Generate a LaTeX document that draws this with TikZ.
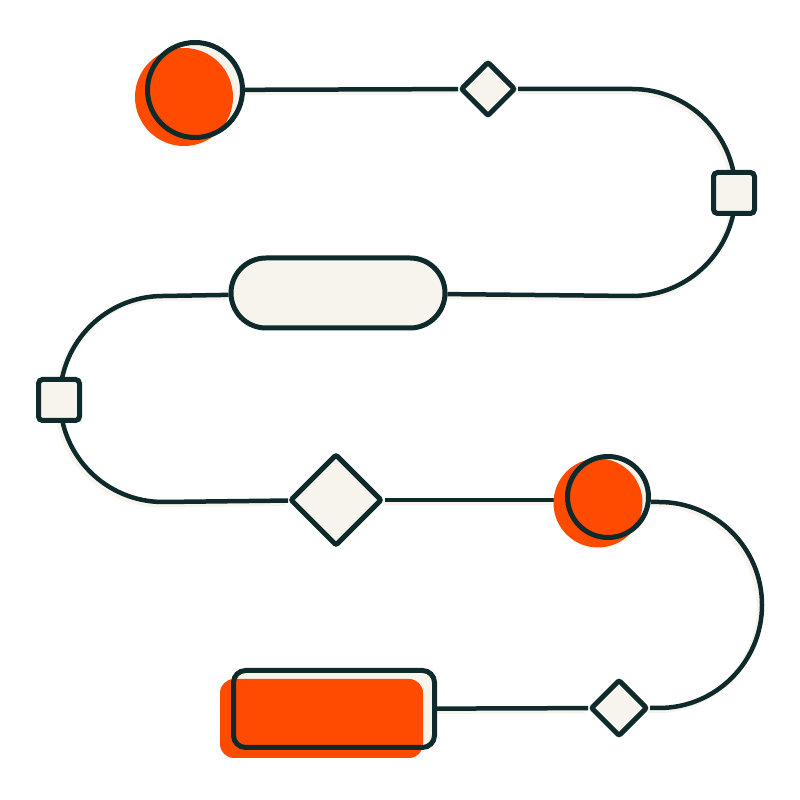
\documentclass[tikz,border=0pt]{standalone}
\usetikzlibrary{shapes.geometric,shapes.misc,backgrounds}
\definecolor{ink}{HTML}{0F2A2A}
\definecolor{accent}{HTML}{FF4B00}
\definecolor{paper}{HTML}{F7F4EE}
\begin{document}
\begin{tikzpicture}[x=1pt,y=1pt,
  ring/.style={circle,draw=ink,line width=5pt,inner sep=0pt,minimum size=#1},
  disc/.style={circle,fill=accent,inner sep=0pt,minimum size=#1},
  gem/.style={diamond,draw=ink,fill=paper,line width=5pt,inner sep=0pt,minimum size=#1,rounded corners=2pt},
  box/.style={rectangle,draw=ink,fill=paper,line width=5pt,inner sep=0pt,minimum size=41pt,rounded corners=4pt},
  wire/.style={draw=ink,line width=4.5pt},
  shade/.style={draw=paper,line width=5.5pt}]
\useasboundingbox (0,0) rectangle (800,800);
% start circle
\fill[paper] (195,710) circle (47.5);
\node[disc=98pt] (c1o) at (184,703) {};
\node[ring=95pt] (c1) at (195,710) {};
\node[gem=55pt] (d1) at (488,711) {};
\coordinate (a1s) at (632,711);
\node[box] (s1) at (734,607) {};
\node[rounded rectangle,draw=ink,fill=paper,line width=5pt,minimum width=214pt,minimum height=70pt,inner sep=0pt] (p) at (338,507) {};
\coordinate (a2s) at (163,504);
\node[box] (s2) at (59,400) {};
\node[gem=92pt] (d2) at (336,300) {};
% second circle
\fill[paper] (608,303) circle (40.5);
\node[disc=89pt] (c2o) at (598,297) {};
\node[ring=81pt] (c2) at (608,303) {};
\coordinate (a3s) at (659,298);
\node[gem=57pt] (d3) at (619,92) {};
% end rectangle
\fill[paper,rounded corners=12pt] (233,130) rectangle (435,52);
\node[rectangle,fill=accent,rounded corners=14pt,inner sep=0pt,minimum width=203pt,minimum height=79pt] (ro) at (321.5,81.5) {};
\node[rectangle,draw=ink,line width=5pt,rounded corners=12pt,minimum width=201pt,minimum height=77pt,inner sep=0pt] (r) at (334,91) {};
\begin{pgfonlayer}{background}
  \fill[white] (0,0) rectangle (800,800);
  \begin{scope}[transform canvas={shift={(-2.5pt,-2.5pt)}}]
    \path[shade] (c1) -- (d1);
    \path[shade] (d1) -- (a1s) arc[start angle=90,end angle=-90,radius=103.5] -- (p);
    \path[shade] (p) -- (a2s) arc[start angle=90,end angle=270,radius=103] -- (d2);
    \path[shade] (d2.east) -- (c2.west |- d2.east);
    \path[shade] (c2.east |- a3s) -- (a3s) arc[start angle=90,end angle=-90,radius=103] -- (d3);
    \path[shade] (d3) -- (r);
  \end{scope}
  \path[wire] (c1) -- (d1);
  \path[wire] (d1) -- (a1s) arc[start angle=90,end angle=-90,radius=103.5] -- (p);
  \path[wire] (p) -- (a2s) arc[start angle=90,end angle=270,radius=103] -- (d2);
  \path[wire] (d2.east) -- (c2.west |- d2.east);
  \path[wire] (c2.east |- a3s) -- (a3s) arc[start angle=90,end angle=-90,radius=103] -- (d3);
  \path[wire] (d3) -- (r);
\end{pgfonlayer}
\end{tikzpicture}
\end{document}
